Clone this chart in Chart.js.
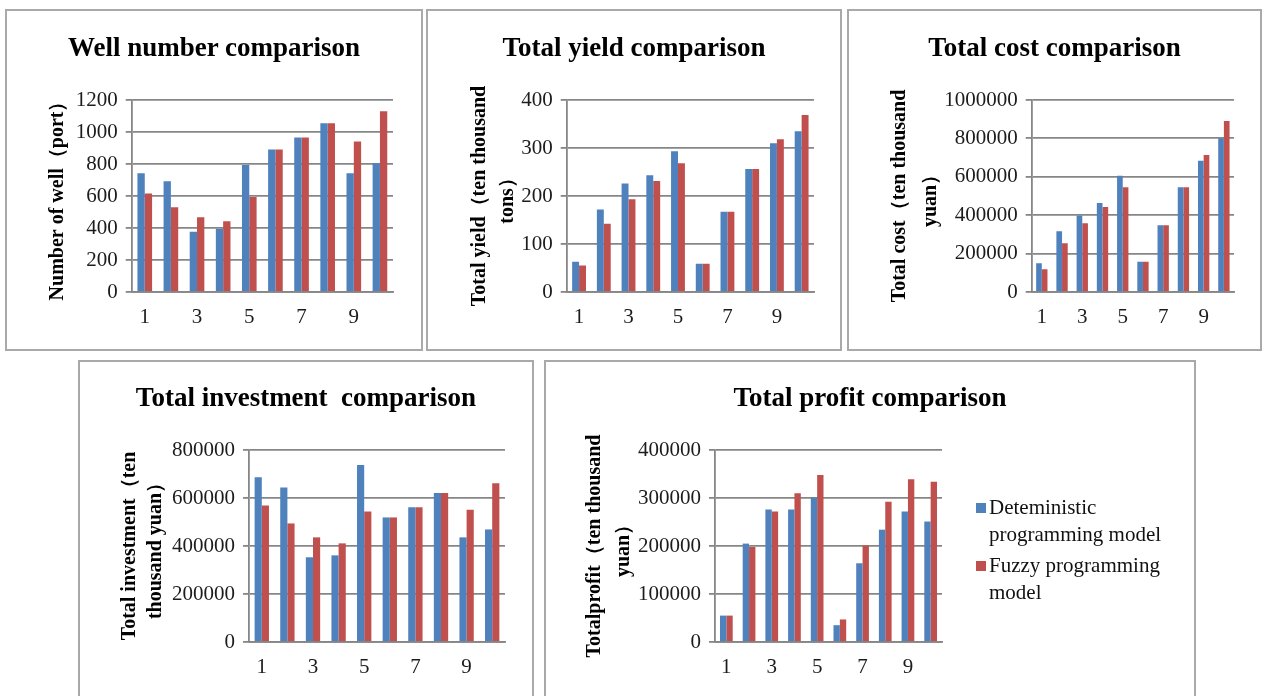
<!DOCTYPE html>
<html>
<head>
<meta charset="utf-8">
<script src="https://cdn.jsdelivr.net/npm/chart.js@4"></script>
<style>
  html, body { margin: 0; padding: 0; width: 1263px; height: 696px; overflow: hidden; background: #fff; }
  .panel { position: absolute; box-sizing: border-box; border: 2px solid #a9a9a9; background: #fff; }
  .panel canvas { position: absolute; left: -2px; top: -2px; }
  .ptitle { position: absolute; left: -2px; right: -2px; text-align: center; white-space: pre;
            font: bold 27px 'Liberation Serif', 'Times New Roman', serif; line-height: 30px; color: #000; }
  .legend { position: absolute; font: 21px 'Liberation Serif', 'Times New Roman', serif; color: #111; }
  .legend .item { position: relative; padding-left: 13px; width: 200px; line-height: 27px; margin-bottom: 4px; }
  .legend .key { position: absolute; left: 0; top: 9px; width: 10px; height: 10px; }
</style>
</head>
<body>
<script>
// x categories (scenario number) and series names
const categories = ['1', '2', '3', '4', '5', '6', '7', '8', '9', '10'];
const seriesNames = ['Deteministic programming model', 'Fuzzy programming model'];

// Number of wells (port)
const wellDet   = [742, 692, 377, 396, 794, 890, 965, 1054, 742, 804];
const wellFuzzy = [615, 529, 467, 442, 594, 890, 965, 1054, 940, 1129];

// Total yield (ten thousand tons)
const yieldDet   = [63, 172, 226, 243, 293, 59, 167, 256, 310, 335];
const yieldFuzzy = [55, 142, 193, 231, 268, 59, 167, 256, 318, 369];

// Total cost (ten thousand yuan)
const costDet   = [150000, 317000, 398000, 463000, 605000, 158000, 348000, 546000, 683000, 801000];
const costFuzzy = [118000, 254000, 358000, 443000, 546000, 158000, 348000, 546000, 713000, 890000];

// Total investment (ten thousand yuan)
const investDet   = [686000, 644000, 353000, 361000, 737000, 519000, 561000, 621000, 436000, 469000];
const investFuzzy = [569000, 494000, 436000, 411000, 544000, 519000, 561000, 621000, 551000, 661000];

// Total profit (ten thousand yuan)
const profitDet   = [55000, 205000, 276000, 276000, 301000, 35000, 164000, 234000, 272000, 251000];
const profitFuzzy = [55000, 198000, 272000, 310000, 348000, 47000, 201000, 292000, 339000, 334000];

const FONT = "'Liberation Serif', 'Times New Roman', serif";
const BLUE = '#4F81BD';
const RED = '#C0504D';
const GRID = '#868686';
const TICK = '#1c1c1c';

// panel frame, plot rectangle and axis-title placement (page pixels)
const panels = [
  { box: [5, 9, 418, 342], plot: [131.7, 100, 393, 292], titleY: 47,
    title: 'Well number comparison', yTitle: ['Number of well（port）'], yTitleX: 58, yGap: 28,
    max: 1200, step: 200, det: wellDet, fuzzy: wellFuzzy },
  { box: [426, 9, 416, 342], plot: [566.7, 100, 814, 292], titleY: 47,
    title: 'Total yield comparison', yTitle: ['Total yield（ten thousand', 'tons）'], yTitleX: 480, yGap: 28,
    max: 400, step: 100, det: yieldDet, fuzzy: yieldFuzzy },
  { box: [847, 9, 415, 342], plot: [1031.7, 100, 1234, 292], titleY: 47,
    title: 'Total cost comparison', yTitle: ['Total cost（ten thousand', 'yuan）'], yTitleX: 900, yGap: 31,
    max: 1000000, step: 200000, det: costDet, fuzzy: costFuzzy },
  { box: [78, 360, 456, 346], plot: [249, 450, 505, 642], titleY: 397,
    title: 'Total investment  comparison', yTitle: ['Total investment（ten', 'thousand yuan）'], yTitleX: 130, yGap: 26,
    max: 800000, step: 200000, det: investDet, fuzzy: investFuzzy },
  { box: [544, 360, 652, 346], plot: [715, 450, 942, 642], titleY: 397,
    title: 'Total profit comparison', yTitle: ['Totalprofit（ten thousand', 'yuan）'], yTitleX: 595, yGap: 29,
    max: 400000, step: 100000, det: profitDet, fuzzy: profitFuzzy, legend: true }
];

function buildPanel(p) {
  const [bx, by, bw, bh] = p.box;
  const div = document.createElement('div');
  div.className = 'panel';
  Object.assign(div.style, { left: bx + 'px', top: by + 'px', width: bw + 'px', height: bh + 'px' });
  const cv = document.createElement('canvas');
  cv.width = bw; cv.height = bh;
  div.appendChild(cv);

  const t = document.createElement('div');
  t.className = 'ptitle';
  t.textContent = p.title;
  t.style.top = (p.titleY - by - 15 - 2) + 'px';
  div.appendChild(t);
  document.body.appendChild(div);

  const pl = p.plot[0] - bx, pt = p.plot[1] - by, pr = p.plot[2] - bx, pb = p.plot[3] - by;
  const padLeft = p.yTitleX - bx - p.yGap / 2;

  const chart = new Chart(cv, {
    type: 'bar',
    data: {
      labels: categories,
      datasets: [
        { label: seriesNames[0], data: p.det, backgroundColor: BLUE, categoryPercentage: 0.56, barPercentage: 1 },
        { label: seriesNames[1], data: p.fuzzy, backgroundColor: RED, categoryPercentage: 0.56, barPercentage: 1 }
      ]
    },
    options: {
      responsive: false,
      animation: false,
      layout: { padding: { left: padLeft, right: bw - pr, top: pt, bottom: 0 } },
      plugins: { legend: { display: false }, tooltip: { enabled: false }, title: { display: false } },
      scales: {
        x: {
          grid: { display: false, drawTicks: false },
          border: { color: GRID, width: 1.8 },
          ticks: {
            autoSkip: false, maxRotation: 0, padding: 13, color: TICK,
            font: { family: FONT, size: 21 },
            callback: function (v, i) { return i % 2 === 0 ? this.getLabelForValue(v) : ''; }
          },
          afterFit: (s) => { s.height = bh - pb; }
        },
        y: {
          min: 0, max: p.max,
          ticks: { stepSize: p.step, padding: 8, color: TICK, font: { family: FONT, size: 21 },
                   callback: (v) => String(v) },
          grid: { color: GRID, lineWidth: 1.8, tickLength: 6 },
          border: { color: GRID, width: 1.8 },
          title: { display: true, text: p.yTitle, color: '#000', padding: 0,
                   font: { family: FONT, size: 20, weight: 'bold', lineHeight: p.yGap + 'px' } },
          afterFit: (s) => { s.width = pl - padLeft; }
        }
      }
    }
  });

  if (p.legend) {
    const lg = document.createElement('div');
    lg.className = 'legend';
    lg.style.left = (976 - bx - 2) + 'px';
    lg.style.top = (494 - by - 2) + 'px';
    chart.data.datasets.forEach((ds) => {
      const item = document.createElement('div');
      item.className = 'item';
      const key = document.createElement('span');
      key.className = 'key';
      key.style.background = ds.backgroundColor;
      item.appendChild(key);
      item.appendChild(document.createTextNode(ds.label));
      lg.appendChild(item);
    });
    div.appendChild(lg);
  }
}

panels.forEach(buildPanel);
</script>
</body>
</html>
